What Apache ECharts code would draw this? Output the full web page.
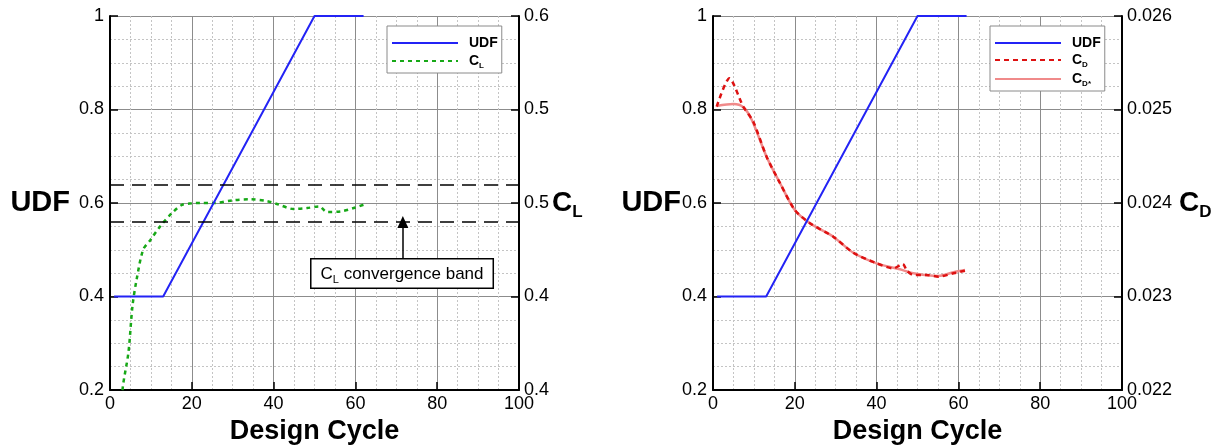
<!DOCTYPE html>
<html>
<head>
<meta charset="utf-8">
<script src="https://cdn.jsdelivr.net/npm/echarts@6/dist/echarts.min.js"></script>
<style>
  html, body { margin: 0; padding: 0; background: #fff; }
  #chart { width: 1226px; height: 445px; }
</style>
</head>
<body>
<div id="chart"></div>
<script>
// design cycle vs UDF (same schedule in both panels)
const udfCycles = [1, 13, 50, 62]
const udfValues = [0.4, 0.4, 1, 1]

// lift coefficient history (left panel, right axis)
const clCycles = [2, 3.1, 4.5, 5.5, 6.5, 8.1, 9.8, 12.2, 15.1, 17.6, 20, 22, 25.3, 30.2, 34.3, 38.4, 40.8, 44.9, 48.2, 51.1, 53.1, 56.4, 59.6, 62.5]
const clValues = [0.37, 0.401, 0.42, 0.445, 0.459, 0.475, 0.480, 0.4873, 0.4945, 0.499, 0.4998, 0.5, 0.5, 0.5015, 0.502, 0.501, 0.4995, 0.4968, 0.4973, 0.4982, 0.4952, 0.4955, 0.4973, 0.4995]
const clBand = [0.49, 0.51]

// drag coefficient history (right panel, right axis)
const cdCycles = [0.9, 4.0, 7.4, 9.85, 13.1, 16.4, 20.0, 23.7, 29.4, 34.3, 40.0, 44.1, 46.4, 47.4, 49.0, 52.2, 55.1, 58.8, 61.6]
const cdValues = [0.02503, 0.025334, 0.02503, 0.02487, 0.024495, 0.024211, 0.023925, 0.023783, 0.02364, 0.023468, 0.023355, 0.023301, 0.023348, 0.023276, 0.02323, 0.02323, 0.023212, 0.023248, 0.023276]
const cdStarCycles = [0.9, 5.0, 7.4, 9.5, 13.1, 16.4, 20.0, 23.7, 29.4, 34.3, 40.0, 45.7, 49.0, 55.1, 58.8, 61.6]
const cdStarValues = [0.025037, 0.025058, 0.025024, 0.024888, 0.024495, 0.024211, 0.023925, 0.023783, 0.02364, 0.023468, 0.023355, 0.023291, 0.023248, 0.02322, 0.023259, 0.023283]

// tick labels as printed on the original plots
const udfTickLabels = ['0.2', '0.4', '0.6', '0.8', '1']
const clTickLabels = ['0.4', '0.4', '0.5', '0.5', '0.6']
const cdTickLabels = ['0.022', '0.023', '0.024', '0.025', '0.026']

const zip = (xs, ys) => xs.map((x, i) => [x, ys[i]])

const FONT = "'Liberation Sans', Arial, sans-serif"
const BLUE = '#2323f5'
const GREEN = '#17a817'
const RED = '#dd1111'
const PINK = '#f08a8a'

const chart = echarts.init(document.getElementById('chart'), null, { renderer: 'canvas' })

const titleStyle = {
  color: '#000', fontFamily: FONT, fontWeight: 'bold', fontSize: 28,
  rich: {
    c: { fontFamily: FONT, fontWeight: 'bold', fontSize: 28, color: '#000' },
    s: { fontFamily: FONT, fontWeight: 'bold', fontSize: 17, color: '#000', verticalAlign: 'bottom', padding: [0, 0, -4, 0] }
  }
}

function xAxisOf(gridIndex) {
  return {
    type: 'value', gridIndex, min: 0, max: 100, interval: 20,
    name: 'Design Cycle', nameLocation: 'middle', nameGap: 21,
    nameTextStyle: { color: '#000', fontFamily: FONT, fontWeight: 'bold', fontSize: 27 },
    axisLine: { onZero: false, lineStyle: { color: '#000', width: 2 } },
    axisTick: { inside: true, length: 8, lineStyle: { color: '#000', width: 1.5 } },
    axisLabel: { color: '#000', fontFamily: FONT, fontSize: 18, margin: 5 },
    splitLine: { show: true, lineStyle: { color: '#8c8c8c', width: 1 } },
    minorTick: { show: false, splitNumber: 4 },
    minorSplitLine: { show: true, lineStyle: { color: '#c4c4c4', width: 1, type: [2, 2] } }
  }
}

function udfAxisOf(gridIndex, gap) {
  return {
    type: 'value', gridIndex, position: 'left', min: 0.2, max: 1, interval: 0.2,
    name: 'UDF', nameLocation: 'middle', nameRotate: 0, nameGap: gap, nameMoveOverlap: false,
    nameTextStyle: { color: '#000', fontFamily: FONT, fontWeight: 'bold', fontSize: 29 },
    axisLine: { onZero: false, lineStyle: { color: '#000', width: 2 } },
    axisTick: { inside: true, length: 8, lineStyle: { color: '#000', width: 1.5 } },
    axisLabel: { color: '#000', fontFamily: FONT, fontSize: 18, margin: 6, formatter: (v, i) => udfTickLabels[i] },
    splitLine: { show: true, lineStyle: { color: '#8c8c8c', width: 1 } },
    minorTick: { show: false, splitNumber: 4 },
    minorSplitLine: { show: true, lineStyle: { color: '#c4c4c4', width: 1, type: [2, 2] } }
  }
}

function coefAxisOf(gridIndex, min, max, interval, labels, name, gap) {
  return {
    type: 'value', gridIndex, position: 'right', min, max, interval,
    name, nameLocation: 'middle', nameRotate: 0, nameGap: gap, nameMoveOverlap: false,
    nameTextStyle: titleStyle,
    axisLine: { onZero: false, lineStyle: { color: '#000', width: 2 } },
    axisTick: { inside: true, length: 8, lineStyle: { color: '#000', width: 1.5 } },
    axisLabel: { color: '#000', fontFamily: FONT, fontSize: 18, margin: 5, formatter: (v, i) => labels[i] },
    splitLine: { show: false }
  }
}

const legendText = {
  color: '#000', fontFamily: FONT, fontWeight: 'bold', fontSize: 14,
  rich: {
    b: { fontFamily: FONT, fontWeight: 'bold', fontSize: 14, color: '#000', padding: [0, 0, 0, 6] },
    s: { fontFamily: FONT, fontWeight: 'bold', fontSize: 8, color: '#000', verticalAlign: 'bottom', padding: [0, 0, -2, 0] }
  }
}
const legendNames = { UDF: '{b|UDF}', CL: '{b|C}{s|L}', CD: '{b|C}{s|D}', 'CD*': '{b|C}{s|D*}' }

chart.setOption({
  animation: false,
  textStyle: { fontFamily: FONT },
  grid: [
    { left: 110, top: 16, width: 409, height: 374, outerBoundsMode: 'none' },
    { left: 713, top: 16, width: 409, height: 374, outerBoundsMode: 'none' }
  ],
  xAxis: [xAxisOf(0), xAxisOf(1)],
  yAxis: [
    udfAxisOf(0, 40),
    coefAxisOf(0, 0.4, 0.6, 0.05, clTickLabels, '{c|C}{s|L}', 33),
    udfAxisOf(1, 32),
    coefAxisOf(1, 0.022, 0.026, 0.001, cdTickLabels, '{c|C}{s|D}', 57)
  ],
  legend: [
    {
      data: ['UDF', 'CL'], orient: 'vertical', left: 387, top: 26,
      itemWidth: 66, itemHeight: 14, itemGap: 4, padding: [10, 4, 3, 4],
      borderColor: '#8a8a8a', borderWidth: 1, backgroundColor: '#fff',
      itemStyle: { opacity: 0 },
      selectedMode: false, textStyle: legendText, formatter: n => legendNames[n]
    },
    {
      data: ['UDF', 'CD', 'CD*'], orient: 'vertical', left: 990, top: 26,
      itemWidth: 66, itemHeight: 14, itemGap: 3, padding: [10, 4, 3, 4],
      borderColor: '#8a8a8a', borderWidth: 1, backgroundColor: '#fff',
      itemStyle: { opacity: 0 },
      selectedMode: false, textStyle: legendText, formatter: n => legendNames[n]
    }
  ],
  series: [
    {
      name: 'UDF', type: 'line', xAxisIndex: 0, yAxisIndex: 0, symbol: 'none',
      data: zip(udfCycles, udfValues), z: 4,
      itemStyle: { color: BLUE }, lineStyle: { color: BLUE, width: 2 }
    },
    {
      name: 'CL', type: 'line', xAxisIndex: 0, yAxisIndex: 1, symbol: 'none', smooth: 0.3,
      data: zip(clCycles, clValues), z: 3, clip: true,
      itemStyle: { color: GREEN }, lineStyle: { color: GREEN, width: 2.5, type: [4, 4] },
      markLine: {
        silent: true, symbol: ['none', 'none'], animation: false,
        label: { show: false },
        lineStyle: { color: '#000', width: 1.5, type: [14, 8] },
        data: [
          { yAxis: clBand[0] },
          { yAxis: clBand[1] },
          [
            { coord: [71.6, 0.4706], symbol: 'none', lineStyle: { type: 'solid', width: 1.5, color: '#000' } },
            { coord: [71.6, 0.4898], symbol: 'triangle', symbolSize: [11, 12] }
          ]
        ]
      },
      markPoint: {
        silent: true, symbol: 'rect', symbolSize: 1, itemStyle: { color: 'rgba(0,0,0,0)' },
        label: {
          show: true, position: 'inside', color: '#000', fontFamily: FONT, fontSize: 17,
          backgroundColor: '#fff', borderColor: '#000', borderWidth: 1.5, padding: [6, 9, 5, 9],
          formatter: '{a|C}{s|L}{a| convergence band}',
          rich: {
            a: { fontFamily: FONT, fontSize: 17, color: '#000' },
            s: { fontFamily: FONT, fontSize: 11, color: '#000', verticalAlign: 'bottom', padding: [0, 0, -3, 0] }
          }
        },
        data: [{ coord: [71.4, 0.4623] }]
      }
    },
    {
      name: 'UDF', type: 'line', xAxisIndex: 1, yAxisIndex: 2, symbol: 'none',
      data: zip(udfCycles, udfValues), z: 4,
      itemStyle: { color: BLUE }, lineStyle: { color: BLUE, width: 2 }
    },
    {
      name: 'CD', type: 'line', xAxisIndex: 1, yAxisIndex: 3, symbol: 'none', smooth: 0.25,
      data: zip(cdCycles, cdValues), z: 3,
      itemStyle: { color: RED }, lineStyle: { color: RED, width: 2.5, type: [5, 4] }
    },
    {
      name: 'CD*', type: 'line', xAxisIndex: 1, yAxisIndex: 3, symbol: 'none', smooth: 0.3,
      data: zip(cdStarCycles, cdStarValues), z: 2,
      itemStyle: { color: PINK }, lineStyle: { color: PINK, width: 2.5 }
    }
  ]
})
</script>
</body>
</html>
